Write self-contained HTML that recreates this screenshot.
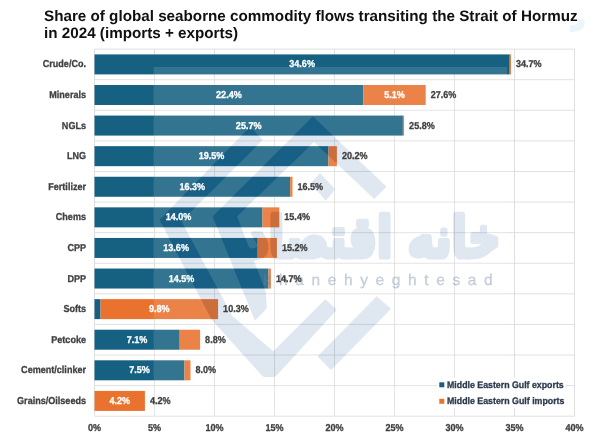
<!DOCTYPE html>
<html lang="en"><head><meta charset="utf-8"><title>Strait of Hormuz commodity flows</title>
<style>html,body{margin:0;padding:0;background:#fff}body{width:600px;height:446px;overflow:hidden}svg{display:block}text{text-rendering:geometricPrecision;font-family:"Liberation Sans",Arial,sans-serif;font-weight:bold}</style></head><body>
<svg width="600" height="446" viewBox="0 0 600 446">
<rect width="600" height="446" fill="#fff"/>
<text x="44" y="20.8" font-size="15.22" fill="#111">Share of global seaborne commodity flows transiting the Strait of Hormuz</text>
<text x="44" y="38.2" font-size="15.22" fill="#111">in 2024 (imports + exports)</text>
<path d="M581 19.5 Q583 29 570 28.5" fill="none" stroke="#eaf5fc" stroke-width="7"/>
<g stroke="#d6d6d6" stroke-width="0.75" fill="none">
<line x1="94.5" y1="49.1" x2="94.5" y2="416.2"/>
<line x1="154.5" y1="49.1" x2="154.5" y2="416.2"/>
<line x1="214.5" y1="49.1" x2="214.5" y2="416.2"/>
<line x1="274.5" y1="49.1" x2="274.5" y2="416.2"/>
<line x1="334.5" y1="49.1" x2="334.5" y2="416.2"/>
<line x1="394.5" y1="49.1" x2="394.5" y2="416.2"/>
<line x1="454.5" y1="49.1" x2="454.5" y2="416.2"/>
<line x1="514.5" y1="49.1" x2="514.5" y2="416.2"/>
<line x1="574.5" y1="49.1" x2="574.5" y2="416.2"/>
<line x1="94.5" y1="49.10" x2="574.5" y2="49.10"/>
<line x1="94.5" y1="79.69" x2="574.5" y2="79.69"/>
<line x1="94.5" y1="110.28" x2="574.5" y2="110.28"/>
<line x1="94.5" y1="140.88" x2="574.5" y2="140.88"/>
<line x1="94.5" y1="171.47" x2="574.5" y2="171.47"/>
<line x1="94.5" y1="202.06" x2="574.5" y2="202.06"/>
<line x1="94.5" y1="232.65" x2="574.5" y2="232.65"/>
<line x1="94.5" y1="263.24" x2="574.5" y2="263.24"/>
<line x1="94.5" y1="293.83" x2="574.5" y2="293.83"/>
<line x1="94.5" y1="324.43" x2="574.5" y2="324.43"/>
<line x1="94.5" y1="355.02" x2="574.5" y2="355.02"/>
<line x1="94.5" y1="385.61" x2="574.5" y2="385.61"/>
<line x1="94.5" y1="416.20" x2="574.5" y2="416.20"/>
</g>
<rect x="94.5" y="54.40" width="415.2" height="20.0" fill="#166082"/>
<rect x="509.7" y="54.40" width="1.2" height="20.0" fill="#e9722e"/>
<rect x="94.5" y="84.99" width="268.8" height="20.0" fill="#166082"/>
<rect x="363.3" y="84.99" width="62.4" height="20.0" fill="#e9722e"/>
<rect x="94.5" y="115.58" width="308.4" height="20.0" fill="#166082"/>
<rect x="402.9" y="115.58" width="1.2" height="20.0" fill="#e9722e"/>
<rect x="94.5" y="146.17" width="234.0" height="20.0" fill="#166082"/>
<rect x="328.5" y="146.17" width="8.4" height="20.0" fill="#e9722e"/>
<rect x="94.5" y="176.76" width="195.6" height="20.0" fill="#166082"/>
<rect x="290.1" y="176.76" width="2.4" height="20.0" fill="#e9722e"/>
<rect x="94.5" y="207.35" width="168.0" height="20.0" fill="#166082"/>
<rect x="262.5" y="207.35" width="16.8" height="20.0" fill="#e9722e"/>
<rect x="94.5" y="237.95" width="163.2" height="20.0" fill="#166082"/>
<rect x="257.7" y="237.95" width="19.2" height="20.0" fill="#e9722e"/>
<rect x="94.5" y="268.54" width="174.0" height="20.0" fill="#166082"/>
<rect x="268.5" y="268.54" width="2.4" height="20.0" fill="#e9722e"/>
<rect x="94.5" y="299.13" width="6.0" height="20.0" fill="#166082"/>
<rect x="100.5" y="299.13" width="117.6" height="20.0" fill="#e9722e"/>
<rect x="94.5" y="329.72" width="85.2" height="20.0" fill="#166082"/>
<rect x="179.7" y="329.72" width="20.4" height="20.0" fill="#e9722e"/>
<rect x="94.5" y="360.31" width="90.0" height="20.0" fill="#166082"/>
<rect x="184.5" y="360.31" width="6.0" height="20.0" fill="#e9722e"/>
<rect x="94.5" y="390.90" width="50.4" height="20.0" fill="#e9722e"/>
<defs><mask id="wmk" maskUnits="userSpaceOnUse" x="150" y="60" width="360" height="365"><rect x="150" y="60" width="360" height="365" fill="#fff"/>
<g fill="#000" stroke="#000" stroke-width="1.5" stroke-linejoin="round">
<polygon points="250.0,127.7 261.8,139.8 180.5,221.0 231.6,316.4 273.3,352.2 325.3,300.3 335.8,309.8 277.5,373.5 274.5,376.2 264.0,376.2 261.5,374.0 212.0,319.0 160.5,220.0"/>
<polygon points="313.0,117.5 385.5,186.7 374.2,198.0 314.0,141.0 236.2,216.2 265.0,291.8 266.1,307.7 255.2,319.5 213.5,216.5"/>
<polygon points="320.0,174.0 334.0,189.2 325.8,199.7 311.8,183.3"/>
<polygon points="376.7,297.4 390.1,308.8 331.0,368.9 318.6,356.5"/>
</g>
<text transform="translate(500.5 257.2) scale(0.97 1.22)" font-size="46" text-anchor="end" style="font-family:'DejaVu Sans',sans-serif;font-weight:bold" fill="#000" stroke="#000" stroke-width="4.2" stroke-linejoin="round">خانه اقتصاد</text>
</mask></defs>
<rect x="153.6" y="67" width="353.4" height="353" fill="#fff" fill-opacity="0.125" mask="url(#wmk)"/>
<g opacity="0.138">
<g fill="#1e5a96" stroke="#1e5a96" stroke-width="1.5" stroke-linejoin="round">
<polygon points="250.0,127.7 261.8,139.8 180.5,221.0 231.6,316.4 273.3,352.2 325.3,300.3 335.8,309.8 277.5,373.5 274.5,376.2 264.0,376.2 261.5,374.0 212.0,319.0 160.5,220.0"/>
<polygon points="313.0,117.5 385.5,186.7 374.2,198.0 314.0,141.0 236.2,216.2 265.0,291.8 266.1,307.7 255.2,319.5 213.5,216.5"/>
<polygon points="320.0,174.0 334.0,189.2 325.8,199.7 311.8,183.3"/>
<polygon points="376.7,297.4 390.1,308.8 331.0,368.9 318.6,356.5"/>
</g>
<text transform="translate(500.5 257.2) scale(0.97 1.22)" font-size="46" text-anchor="end" style="font-family:'DejaVu Sans',sans-serif;font-weight:bold" fill="#1e5a96" stroke="#1e5a96" stroke-width="4.2" stroke-linejoin="round">خانه اقتصاد</text>
</g>
<text x="263.5" y="284.6" font-size="15.5" style="font-family:'Liberation Sans',sans-serif;font-weight:normal;letter-spacing:7.63px" fill="#6f86a0" fill-opacity="0.36" stroke="#6f86a0" stroke-opacity="0.36" stroke-width="0.3">khanehyeghtesad</text>
<text transform="translate(86.00 67.40) scale(0.905 1)" font-size="10" text-anchor="end" fill="#404040" stroke="#404040" stroke-width="0.3">Crude/Co.</text>
<text transform="translate(302.10 67.40) scale(0.905 1)" font-size="10" text-anchor="middle" fill="#fff" stroke="#fff" stroke-width="0.3">34.6%</text>
<text transform="translate(515.90 67.40) scale(0.905 1)" font-size="10" fill="#404040" stroke="#404040" stroke-width="0.3">34.7%</text>
<text transform="translate(86.00 97.99) scale(0.905 1)" font-size="10" text-anchor="end" fill="#404040" stroke="#404040" stroke-width="0.3">Minerals</text>
<text transform="translate(228.90 97.99) scale(0.905 1)" font-size="10" text-anchor="middle" fill="#fff" stroke="#fff" stroke-width="0.3">22.4%</text>
<text transform="translate(394.50 97.99) scale(0.905 1)" font-size="10" text-anchor="middle" fill="#fff" stroke="#fff" stroke-width="0.3">5.1%</text>
<text transform="translate(430.70 97.99) scale(0.905 1)" font-size="10" fill="#404040" stroke="#404040" stroke-width="0.3">27.6%</text>
<text transform="translate(86.00 128.58) scale(0.905 1)" font-size="10" text-anchor="end" fill="#404040" stroke="#404040" stroke-width="0.3">NGLs</text>
<text transform="translate(248.70 128.58) scale(0.905 1)" font-size="10" text-anchor="middle" fill="#fff" stroke="#fff" stroke-width="0.3">25.7%</text>
<text transform="translate(409.10 128.58) scale(0.905 1)" font-size="10" fill="#404040" stroke="#404040" stroke-width="0.3">25.8%</text>
<text transform="translate(86.00 159.17) scale(0.905 1)" font-size="10" text-anchor="end" fill="#404040" stroke="#404040" stroke-width="0.3">LNG</text>
<text transform="translate(211.50 159.17) scale(0.905 1)" font-size="10" text-anchor="middle" fill="#fff" stroke="#fff" stroke-width="0.3">19.5%</text>
<text transform="translate(341.90 159.17) scale(0.905 1)" font-size="10" fill="#404040" stroke="#404040" stroke-width="0.3">20.2%</text>
<text transform="translate(86.00 189.76) scale(0.905 1)" font-size="10" text-anchor="end" fill="#404040" stroke="#404040" stroke-width="0.3">Fertilizer</text>
<text transform="translate(192.30 189.76) scale(0.905 1)" font-size="10" text-anchor="middle" fill="#fff" stroke="#fff" stroke-width="0.3">16.3%</text>
<text transform="translate(297.50 189.76) scale(0.905 1)" font-size="10" fill="#404040" stroke="#404040" stroke-width="0.3">16.5%</text>
<text transform="translate(86.00 220.35) scale(0.905 1)" font-size="10" text-anchor="end" fill="#404040" stroke="#404040" stroke-width="0.3">Chems</text>
<text transform="translate(178.50 220.35) scale(0.905 1)" font-size="10" text-anchor="middle" fill="#fff" stroke="#fff" stroke-width="0.3">14.0%</text>
<text transform="translate(284.30 220.35) scale(0.905 1)" font-size="10" fill="#404040" stroke="#404040" stroke-width="0.3">15.4%</text>
<text transform="translate(86.00 250.95) scale(0.905 1)" font-size="10" text-anchor="end" fill="#404040" stroke="#404040" stroke-width="0.3">CPP</text>
<text transform="translate(176.10 250.95) scale(0.905 1)" font-size="10" text-anchor="middle" fill="#fff" stroke="#fff" stroke-width="0.3">13.6%</text>
<text transform="translate(281.90 250.95) scale(0.905 1)" font-size="10" fill="#404040" stroke="#404040" stroke-width="0.3">15.2%</text>
<text transform="translate(86.00 281.54) scale(0.905 1)" font-size="10" text-anchor="end" fill="#404040" stroke="#404040" stroke-width="0.3">DPP</text>
<text transform="translate(181.50 281.54) scale(0.905 1)" font-size="10" text-anchor="middle" fill="#fff" stroke="#fff" stroke-width="0.3">14.5%</text>
<text transform="translate(275.90 281.54) scale(0.905 1)" font-size="10" fill="#404040" stroke="#404040" stroke-width="0.3">14.7%</text>
<text transform="translate(86.00 312.13) scale(0.905 1)" font-size="10" text-anchor="end" fill="#404040" stroke="#404040" stroke-width="0.3">Softs</text>
<text transform="translate(159.30 312.13) scale(0.905 1)" font-size="10" text-anchor="middle" fill="#fff" stroke="#fff" stroke-width="0.3">9.8%</text>
<text transform="translate(223.10 312.13) scale(0.905 1)" font-size="10" fill="#404040" stroke="#404040" stroke-width="0.3">10.3%</text>
<text transform="translate(86.00 342.72) scale(0.905 1)" font-size="10" text-anchor="end" fill="#404040" stroke="#404040" stroke-width="0.3">Petcoke</text>
<text transform="translate(137.10 342.72) scale(0.905 1)" font-size="10" text-anchor="middle" fill="#fff" stroke="#fff" stroke-width="0.3">7.1%</text>
<text transform="translate(205.10 342.72) scale(0.905 1)" font-size="10" fill="#404040" stroke="#404040" stroke-width="0.3">8.8%</text>
<text transform="translate(86.00 373.31) scale(0.905 1)" font-size="10" text-anchor="end" fill="#404040" stroke="#404040" stroke-width="0.3">Cement/clinker</text>
<text transform="translate(139.50 373.31) scale(0.905 1)" font-size="10" text-anchor="middle" fill="#fff" stroke="#fff" stroke-width="0.3">7.5%</text>
<text transform="translate(195.50 373.31) scale(0.905 1)" font-size="10" fill="#404040" stroke="#404040" stroke-width="0.3">8.0%</text>
<text transform="translate(86.00 403.90) scale(0.905 1)" font-size="10" text-anchor="end" fill="#404040" stroke="#404040" stroke-width="0.3">Grains/Oilseeds</text>
<text transform="translate(119.70 403.90) scale(0.905 1)" font-size="10" text-anchor="middle" fill="#fff" stroke="#fff" stroke-width="0.3">4.2%</text>
<text transform="translate(149.90 403.90) scale(0.905 1)" font-size="10" fill="#404040" stroke="#404040" stroke-width="0.3">4.2%</text>
<text transform="translate(94.50 430.50) scale(0.905 1)" font-size="10" text-anchor="middle" fill="#404040" stroke="#404040" stroke-width="0.3">0%</text>
<text transform="translate(154.50 430.50) scale(0.905 1)" font-size="10" text-anchor="middle" fill="#404040" stroke="#404040" stroke-width="0.3">5%</text>
<text transform="translate(214.50 430.50) scale(0.905 1)" font-size="10" text-anchor="middle" fill="#404040" stroke="#404040" stroke-width="0.3">10%</text>
<text transform="translate(274.50 430.50) scale(0.905 1)" font-size="10" text-anchor="middle" fill="#404040" stroke="#404040" stroke-width="0.3">15%</text>
<text transform="translate(334.50 430.50) scale(0.905 1)" font-size="10" text-anchor="middle" fill="#404040" stroke="#404040" stroke-width="0.3">20%</text>
<text transform="translate(394.50 430.50) scale(0.905 1)" font-size="10" text-anchor="middle" fill="#404040" stroke="#404040" stroke-width="0.3">25%</text>
<text transform="translate(454.50 430.50) scale(0.905 1)" font-size="10" text-anchor="middle" fill="#404040" stroke="#404040" stroke-width="0.3">30%</text>
<text transform="translate(514.50 430.50) scale(0.905 1)" font-size="10" text-anchor="middle" fill="#404040" stroke="#404040" stroke-width="0.3">35%</text>
<text transform="translate(574.50 430.50) scale(0.905 1)" font-size="10" text-anchor="middle" fill="#404040" stroke="#404040" stroke-width="0.3">40%</text>
<rect x="437.5" y="377.5" width="128.5" height="30.5" fill="#fff"/>
<rect x="439.3" y="382.3" width="5" height="5" fill="#166082"/>
<text transform="translate(447.00 387.60) scale(0.925 1)" font-size="9.5" fill="#2c3a4c" stroke="#2c3a4c" stroke-width="0.3">Middle Eastern Gulf exports</text>
<rect x="439.3" y="398.8" width="5" height="5" fill="#e9722e"/>
<text transform="translate(447.00 404.00) scale(0.927 1)" font-size="9.5" fill="#2c3a4c" stroke="#2c3a4c" stroke-width="0.3">Middle Eastern Gulf imports</text>
</svg></body></html>
